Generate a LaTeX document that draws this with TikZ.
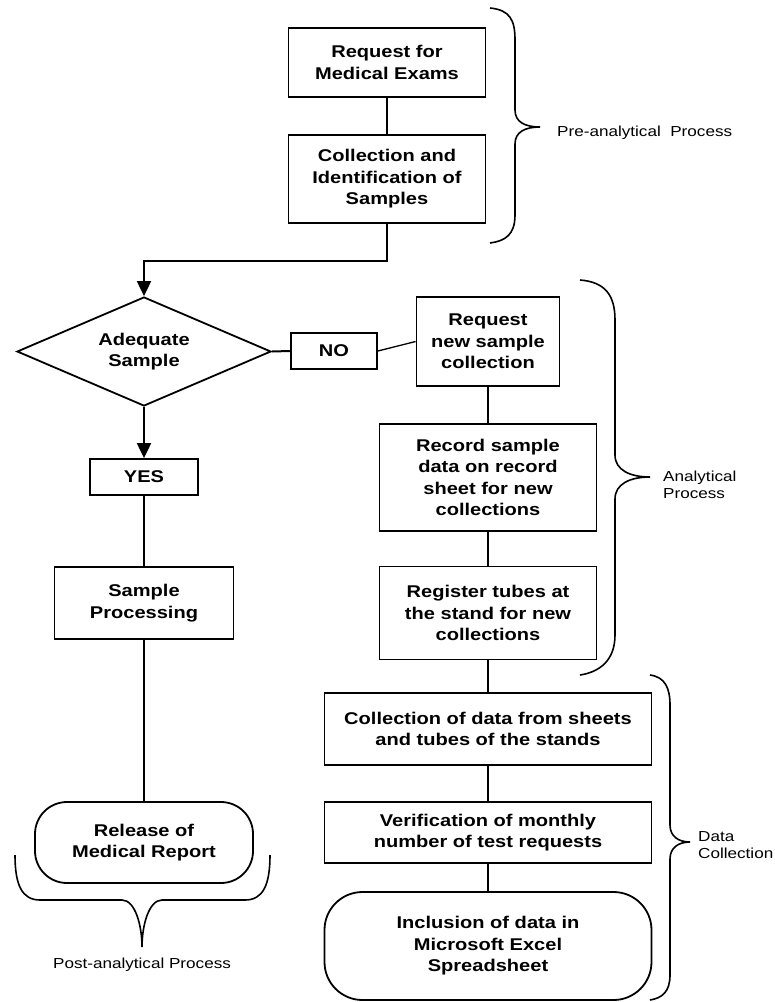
\documentclass[tikz,border=0pt]{standalone}
\usepackage{fontspec}
\setmainfont{Liberation Sans}[FakeStretch=1.18]
\usetikzlibrary{shapes.geometric,arrows.meta}

\tikzset{
  box/.style={draw, line width=1.8pt, align=center, inner sep=0pt,
    font=\fontsize{17}{21.5}\selectfont\bfseries},
  decision/.style={box, shape=diamond, aspect=2.3},
  rbox/.style={box, rounded corners=32pt},
  tag/.style={align=left, inner sep=0pt, font=\fontsize{14.5}{17}\selectfont},
  link/.style={line width=2pt},
  arr/.style={link, -{Triangle[length=15pt,width=14pt]}},
  brace/.style={line width=1.6pt}
}

\begin{document}
\begin{tikzpicture}[x=1pt, y=-1pt]
  \useasboundingbox[fill=white] (0,0) rectangle (775,1002);

  % pre-analytical
  \node[box, minimum width=197pt, minimum height=69pt] (req) at (387,62.5) {Request for\\Medical Exams};
  \node[box, minimum width=197pt, minimum height=88pt] (ident) at (387,179) {Collection and\\Identification of\\Samples};

  % analytical
  \node[decision, minimum width=254pt, minimum height=109pt] (adeq) at (144,351.5) {Adequate\\Sample};
  \node[box, minimum width=86pt, minimum height=36pt] (no) at (334,351) {NO};
  \node[box, minimum width=143pt, minimum height=89pt] (newcoll) at (488,341.5) {Request\\new sample\\collection};
  \node[box, minimum width=217pt, minimum height=107pt] (record) at (488,477.5) {Record sample\\data on record\\sheet for new\\collections};
  \node[box, minimum width=217pt, minimum height=93pt] (tubes) at (488,613) {Register tubes at\\the stand for new\\collections};
  \node[box, minimum width=108pt, minimum height=36pt] (yes) at (144,477) {YES};
  \node[box, minimum width=179pt, minimum height=72pt] (proc) at (144,603) {Sample\\Processing};

  % post-analytical
  \node[rbox, minimum width=218pt, minimum height=81pt] (report) at (144,842.5) {Release of\\Medical Report};

  % data collection
  \node[box, minimum width=327pt, minimum height=72pt] (gather) at (488,729) {Collection of data from sheets\\and tubes of the stands};
  \node[box, minimum width=327pt, minimum height=61pt] (verif) at (488,832.5) {Verification of monthly\\number of test requests};
  \node[rbox, rounded corners=38pt, minimum width=327pt, minimum height=108pt] (excel) at (488,946) {Inclusion of data in\\Microsoft Excel\\Spreadsheet};

  \draw[link] (req) -- (ident);
  \draw[arr] (ident.south) -- ++(0,37) -| (adeq.north);
  \draw[link] (adeq.east) -- (no.west);
  \draw[link, line width=1.3pt] (no.east) -- (newcoll.west);
  \draw[link] (newcoll) -- (record);
  \draw[link] (record) -- (tubes);
  \draw[link] (tubes) -- (gather);
  \draw[link] (gather) -- (verif);
  \draw[link] (verif) -- (excel);
  \draw[arr] (adeq.south) -- (yes.north);
  \draw[link] (yes) -- (proc);
  \draw[link] (proc) -- (report);

  % braces
  \draw[brace] (490,8) .. controls (510,10) and (515,20) .. (515,40) -- (515,110)
    .. controls (515,122) and (525,127) .. (540,127) .. controls (525,127) and (515,132) .. (515,144)
    -- (515,215) .. controls (515,235) and (505,241) .. (490,243);
  \draw[brace] (580,280) .. controls (605,282) and (615,295) .. (615,320) -- (615,455)
    .. controls (615,470) and (630,477) .. (650,477) .. controls (630,477) and (615,484) .. (615,499)
    -- (615,635) .. controls (615,660) and (600,672) .. (580,675);
  \draw[brace] (650,675) .. controls (665,677) and (670,688) .. (670,705) -- (670,825)
    .. controls (670,836) and (678,842) .. (690,842) .. controls (678,842) and (670,848) .. (670,859)
    -- (670,975) .. controls (670,992) and (662,998) .. (650,1000);
  \draw[brace] (15,855) .. controls (15,885) and (22,900) .. (40,900) -- (122,900)
    .. controls (135,900) and (142,925) .. (142,947) .. controls (142,925) and (149,900) .. (162,900)
    -- (245,900) .. controls (263,900) and (270,885) .. (270,855);

  \node[tag, anchor=west] (prelbl) at (557,133) {Pre-analytical\ \ Process};
  \node[tag, anchor=west] (analbl) at (663,485) {Analytical\\Process};
  \node[tag] (postlbl) at (142,965) {Post-analytical Process};
  \node[tag, anchor=west] (datalbl) at (698,845) {Data\\Collection};
\end{tikzpicture}
\end{document}
